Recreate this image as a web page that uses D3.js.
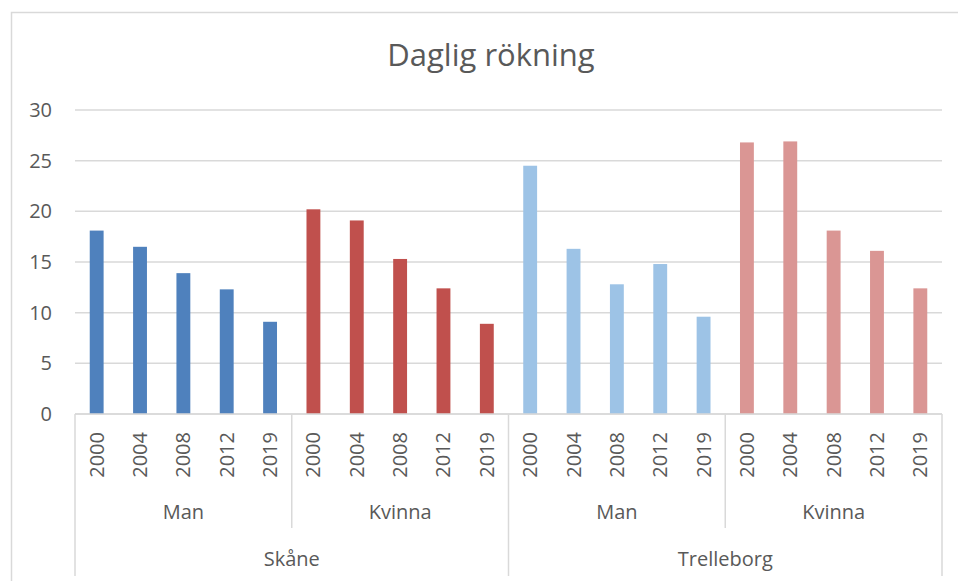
<!DOCTYPE html>
<html>
<head>
<meta charset="utf-8">
<script src="https://cdn.jsdelivr.net/npm/d3@7"></script>
<style>
  body { margin: 0; background: #fff; }
  svg { display: block; font-family: "Open Sans", sans-serif; }
</style>
</head>
<body>
<div class="chart"></div>
<script>
// values
var regions = ["Skåne", "Trelleborg"];
var sexes = ["Man", "Kvinna"];
var years = ["2000", "2004", "2008", "2012", "2019"];
var skaneMan = [18.1, 16.5, 13.9, 12.3, 9.1];
var skaneKvinna = [20.2, 19.1, 15.3, 12.4, 8.9];
var trelleborgMan = [24.5, 16.3, 12.8, 14.8, 9.6];
var trelleborgKvinna = [26.8, 26.9, 18.1, 16.1, 12.4];
var yTicks = [0, 5, 10, 15, 20, 25, 30];
var colors = ["#4F81BD", "#C0504D", "#9DC3E6", "#DA9694"];

var seriesList = [skaneMan, skaneKvinna, trelleborgMan, trelleborgKvinna];

var svg_width = 958;
var svg_height = 581;
var textColor = "#595959";
var gridColor = "#D9D9D9";

var svg = d3.select(".chart").append("svg")
  .attr("width", svg_width).attr("height", svg_height);

// outer chart border (right/bottom run off the picture)
svg.append("rect")
  .attr("x", 11.5).attr("y", 12.5)
  .attr("width", 960).attr("height", 600)
  .attr("fill", "none").attr("stroke", gridColor).attr("stroke-width", 1.5);

// note: "top" is taken by window.top, so use other names
var plotLeft = 75, plotRight = 942, plotTop = 110, plotBottom = 414;

// flat list of bars
var bars = [];
regions.forEach(function(r, ri) {
  sexes.forEach(function(s, si) {
    var g = ri * 2 + si;
    years.forEach(function(yr, yi) {
      bars.push({key: r + "|" + s + "|" + yr, region: r, sex: s, year: yr, value: seriesList[g][yi], group: g});
    });
  });
});

var x = d3.scaleBand()
  .domain(bars.map(function(d) { return d.key; }))
  .range([plotLeft, plotRight])
  .paddingInner(0.68)
  .paddingOuter(0.34);

var y = d3.scaleLinear().domain([0, 30]).range([plotBottom, plotTop]);

// gridlines
svg.append("g").selectAll("line")
  .data(yTicks)
  .enter().append("line")
  .attr("x1", plotLeft).attr("x2", plotRight)
  .attr("y1", function(d) { return y(d); })
  .attr("y2", function(d) { return y(d); })
  .attr("stroke", gridColor).attr("stroke-width", 1.5);

// y axis labels
svg.append("g").selectAll("text")
  .data(yTicks)
  .enter().append("text")
  .attr("x", 52)
  .attr("y", function(d) { return y(d); })
  .attr("dy", "0.35em")
  .attr("text-anchor", "end")
  .attr("font-size", 20)
  .attr("fill", textColor)
  .text(function(d) { return d; });

// bars
svg.append("g").selectAll("rect")
  .data(bars)
  .enter().append("rect")
  .attr("x", function(d) { return x(d.key); })
  .attr("width", x.bandwidth())
  .attr("y", function(d) { return y(d.value); })
  .attr("height", function(d) { return y(0) - y(d.value); })
  .attr("fill", function(d) { return colors[d.group]; });

// year labels, rotated
var step = x.step();
svg.append("g").selectAll("text")
  .data(bars)
  .enter().append("text")
  .attr("transform", function(d) {
    return "translate(" + (x(d.key) + x.bandwidth() / 2) + ",432) rotate(-90)";
  })
  .attr("dy", "0.35em")
  .attr("text-anchor", "end")
  .attr("font-size", 20)
  .attr("fill", textColor)
  .text(function(d) { return d.year; });

// category separators
var groupEdge = function(i) { return plotLeft + i * step * 5; };
var seps = d3.range(0, 5);
svg.append("g").selectAll("line")
  .data(seps)
  .enter().append("line")
  .attr("x1", function(d) { return groupEdge(d); })
  .attr("x2", function(d) { return groupEdge(d); })
  .attr("y1", plotBottom)
  .attr("y2", function(d) { return d % 2 === 0 ? 576 : 528; })
  .attr("stroke", gridColor).attr("stroke-width", 1.5);

// x axis line
svg.append("line")
  .attr("x1", plotLeft).attr("x2", plotRight)
  .attr("y1", plotBottom).attr("y2", plotBottom)
  .attr("stroke", gridColor).attr("stroke-width", 1.5);

// sex labels
var sexLabels = [];
regions.forEach(function(r) { sexes.forEach(function(s) { sexLabels.push(s); }); });
svg.append("g").selectAll("text")
  .data(sexLabels)
  .enter().append("text")
  .attr("x", function(d, i) { return groupEdge(i) + step * 2.5; })
  .attr("y", 519)
  .attr("text-anchor", "middle")
  .attr("font-size", 20)
  .attr("fill", textColor)
  .text(function(d) { return d; });

// region labels
svg.append("g").selectAll("text")
  .data(regions)
  .enter().append("text")
  .attr("x", function(d, i) { return groupEdge(i * 2) + step * 5; })
  .attr("y", 566)
  .attr("text-anchor", "middle")
  .attr("font-size", 20)
  .attr("fill", textColor)
  .text(function(d) { return d; });

// title
svg.append("text")
  .attr("x", 491).attr("y", 66)
  .attr("text-anchor", "middle")
  .attr("font-size", 31)
  .attr("fill", textColor)
  .text("Daglig rökning");
</script>
</body>
</html>
